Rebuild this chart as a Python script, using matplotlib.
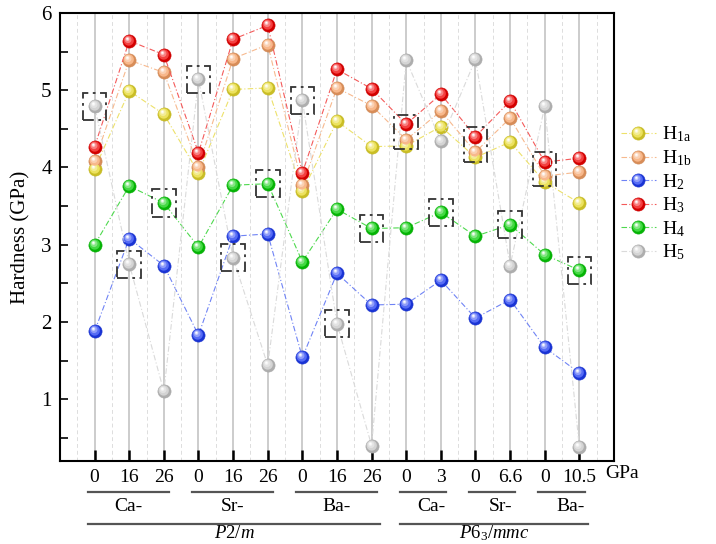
import numpy as np
import matplotlib
matplotlib.use("Agg")
import matplotlib.pyplot as plt
from matplotlib.path import Path
from matplotlib.patches import Rectangle
from matplotlib.lines import Line2D
from matplotlib.legend_handler import HandlerTuple

plt.rcParams['font.family'] = ['Liberation Serif', 'DejaVu Serif']
plt.rcParams['mathtext.fontset'] = 'custom'
plt.rcParams['mathtext.rm'] = 'Liberation Serif'
plt.rcParams['mathtext.it'] = 'Liberation Serif:italic'

# ---- data -------------------------------------------------------------
pressure_labels = ["0", "16", "26", "0", "16", "26", "0", "16", "26",
                   "0", "3", "0", "6.6", "0", "10.5"]

series_names = ["H$_\\mathrm{1a}$", "H$_\\mathrm{1b}$", "H$_\\mathrm{2}$",
                "H$_\\mathrm{3}$", "H$_\\mathrm{4}$", "H$_\\mathrm{5}$"]

h1a = [3.98, 4.99, 4.69, 3.93, 5.01, 5.03, 3.69, 4.60, 4.27, 4.28, 4.53, 4.13, 4.33, 3.81, 3.54]
h1b = [4.08, 5.39, 5.23, 4.01, 5.41, 5.59, 3.77, 5.03, 4.80, 4.36, 4.73, 4.20, 4.64, 3.89, 3.94]
h2 = [1.88, 3.08, 2.73, 1.83, 3.11, 3.14, 1.54, 2.63, 2.22, 2.23, 2.54, 2.05, 2.29, 1.67, 1.34]
h3 = [4.27, 5.64, 5.46, 4.19, 5.66, 5.84, 3.93, 5.27, 5.02, 4.56, 4.95, 4.40, 4.86, 4.07, 4.12]
h4 = [3.00, 3.76, 3.54, 2.97, 3.77, 3.79, 2.78, 3.46, 3.21, 3.22, 3.42, 3.11, 3.26, 2.87, 2.67]
h5 = [4.79, 2.75, 1.10, 5.14, 2.83, 1.44, 4.87, 1.98, 0.40, 5.39, 4.34, 5.40, 2.73, 4.79, 0.38]

# which series is highlighted at each structure (box drawn around it);
# "H1b/H3" means the box encloses both of those points
highlighted = ["H5", "H5", "H4", "H5", "H5", "H4", "H5", "H5", "H4",
               "H1b/H3", "H4", "H1b/H3", "H4", "H1b/H3", "H4"]

# metal groups along the x axis: (label, first index, last index)
metal_groups = [("Ca-", 0, 2), ("Sr-", 3, 5), ("Ba-", 6, 8),
                ("Ca-", 9, 10), ("Sr-", 11, 12), ("Ba-", 13, 14)]
phase_groups = [("$\\mathit{P}$2/$\\mathit{m}$", 0, 8),
                ("$\\mathit{P}$6$_3$/$\\mathit{mmc}$", 9, 14)]

# ---- styling ----------------------------------------------------------
marker_colors = ['#E6D82A', '#F5A064', '#1E3BF2', '#F00000', '#06CC06', '#C6C6C6']
line_colors = ['#EDE16A', '#F7B98E', '#6F83F5', '#F45A5A', '#4ED94E', '#DADADA']

values = [h1a, h1b, h2, h3, h4, h5]
keys = ["H1a", "H1b", "H2", "H3", "H4", "H5"]
x = np.arange(1, len(pressure_labels) + 1)

fig = plt.figure(figsize=(7.16, 5.44), dpi=100)
ax = fig.add_axes([0.0838, 0.1526, 0.7737, 0.8235])


def offset_circle(cx, cy, r, n=40):
    """Circle marker path that keeps its offset from the marker centre."""
    t = np.linspace(0, 2 * np.pi, n)
    verts = [(1, 1), (-1, -1)] + list(zip(cx + r * np.cos(t), cy + r * np.sin(t)))
    codes = [Path.MOVETO, Path.MOVETO, Path.MOVETO] + [Path.LINETO] * (n - 2) + [Path.CLOSEPOLY]
    return Path(verts, codes)


def lighten(c, f):
    rgb = np.array(matplotlib.colors.to_rgb(c))
    return tuple(rgb + (1 - rgb) * f)


def darken(c, f):
    rgb = np.array(matplotlib.colors.to_rgb(c))
    return tuple(rgb * (1 - f))


shine_layers = [(offset_circle(-0.12, 0.15, 0.78), 0.25),
                (offset_circle(-0.22, 0.28, 0.52), 0.5),
                (offset_circle(-0.30, 0.38, 0.28), 0.8),
                (offset_circle(-0.32, 0.42, 0.13), 1.0)]

ms = 9.5
handles = []
for vals, mc, lc, name in zip(values, marker_colors, line_colors, series_names):
    base, = ax.plot(x, vals, linestyle=(0, (5, 2, 1, 2)), color=lc, lw=0.8,
                    marker='o', ms=ms, mfc=darken(mc, 0.12), mec=darken(mc, 0.15),
                    mew=0.4, zorder=3)
    parts = [base]
    for path, f in shine_layers:
        hl, = ax.plot(x, vals, linestyle='none', marker=path, ms=ms,
                      mfc=lighten(mc, f), mec='none', zorder=3.1)
        parts.append(hl)
    handles.append(tuple(parts))

# dash-dot boxes around the highlighted points
box_w, box_h = 0.68, 0.35
for xi, key in zip(x, highlighted):
    ys = [values[keys.index(k)][xi - 1] for k in key.split("/")]
    yc = 0.5 * (min(ys) + max(ys))
    h = box_h + (max(ys) - min(ys)) * 0.5
    ax.add_patch(Rectangle((xi - box_w / 2, yc - h / 2), box_w, h, fill=False,
                           ec='#333333', lw=1.3, ls=(0, (6, 2.5, 1.5, 2.5)),
                           zorder=4))

# axes and grid
ax.set_xlim(0, 16)
ax.set_ylim(0.2, 6)
ax.set_xticks(x)
ax.set_xticklabels(pressure_labels, fontsize=14)
ax.set_xticks(np.arange(0.5, 16, 1.0), minor=True)
ax.set_yticks(np.arange(1, 7))
ax.set_yticklabels([str(v) for v in range(1, 7)], fontsize=15)
ax.set_yticks(np.arange(0.5, 6.0, 1.0), minor=True)
ax.tick_params(axis='x', which='major', direction='in', length=8, width=1.8, pad=6)
ax.tick_params(axis='x', which='minor', length=0)
ax.tick_params(axis='y', which='both', direction='in', length=6, width=1.2, pad=6)
for s in ax.spines.values():
    s.set_linewidth(1.5)
ax.grid(True, axis='x', which='major', color='#C8C8C8', lw=1.3, zorder=0)
ax.grid(True, axis='x', which='minor', color='#DDDDDD', lw=0.7, ls=(0, (4, 3)), zorder=0)
ax.set_axisbelow(True)
ax.set_ylabel("Hardness (GPa)", fontsize=15, labelpad=8)

ax.text(0.985, -0.028, "GPa", transform=ax.transAxes, fontsize=14,
        ha='left', va='center')

# group annotations under the axis
trans = ax.get_xaxis_transform()
for label, i0, i1 in metal_groups:
    x0, x1 = x[i0] - 0.18, x[i1] + 0.15
    ax.add_line(Line2D([x0, x1], [-0.069, -0.069], transform=trans,
                       color='#555555', lw=1.6, clip_on=False))
    xc = 0.5 * (x0 + x1) + (0.25 if i1 - i0 == 1 else 0.0)
    ax.text(xc, -0.083, label, transform=trans, fontsize=14, ha='center', va='top')
for label, i0, i1 in phase_groups:
    x0, x1 = x[i0] - 0.18, x[i1] + 0.25
    ax.add_line(Line2D([x0, x1], [-0.1406, -0.1406], transform=trans,
                       color='#555555', lw=1.6, clip_on=False))
    ax.text(0.5 * (x0 + x1), -0.162, label, transform=trans, fontsize=13.5,
            ha='center', va='center')

ax.legend(handles, series_names, handler_map={tuple: HandlerTuple(ndivide=1, pad=0)},
          loc='upper left', bbox_to_anchor=(0.856, 0.785), bbox_transform=fig.transFigure,
          frameon=False, fontsize=14, handlelength=1.8, handletextpad=0.3,
          labelspacing=0.2, borderaxespad=0)

fig.savefig("out.png", dpi=100)
